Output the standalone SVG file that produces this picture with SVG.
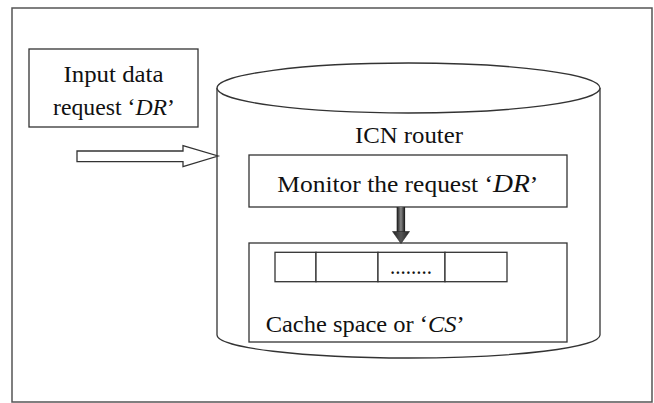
<svg xmlns="http://www.w3.org/2000/svg" width="654" height="403" viewBox="0 0 654 403">
  <style>
    .ln { fill: #fff; stroke: #333; stroke-width: 1.3; }
    .t { font-family: 'Liberation Serif', serif; font-size: 24px; fill: #111; }
    .i { font-style: italic; }
  </style>
  <defs>
    <linearGradient id="shaft" x1="0" y1="0" x2="1" y2="0">
      <stop offset="0" stop-color="#111"/>
      <stop offset="0.5" stop-color="#888"/>
      <stop offset="1" stop-color="#111"/>
    </linearGradient>
    <linearGradient id="head" x1="0" y1="0" x2="1" y2="0">
      <stop offset="0" stop-color="#222"/>
      <stop offset="0.5" stop-color="#555"/>
      <stop offset="1" stop-color="#222"/>
    </linearGradient>
  </defs>
  <rect x="0" y="0" width="654" height="403" fill="#fff"/>
  <g id="frame">
    <rect x="12" y="8" width="640" height="394" fill="#fff" stroke="#555" stroke-width="1.5"/>
  </g>
  <g id="input">
    <rect class="ln" x="29" y="49" width="169" height="78"/>
    <text class="t" x="113.5" y="82" text-anchor="middle" textLength="100" lengthAdjust="spacingAndGlyphs">Input data</text>
    <text class="t" x="53" y="115" textLength="122" lengthAdjust="spacingAndGlyphs">request ‘<tspan class="i">DR</tspan>’</text>
  </g>
  <g id="router">
    <path class="ln" d="M217,88 L217,335 A191.5,23 0 0 0 600,335 L600,88"/>
    <ellipse class="ln" cx="408.5" cy="88" rx="191.5" ry="25"/>
    <text class="t" x="355" y="142.7" textLength="108" lengthAdjust="spacingAndGlyphs">ICN router</text>
  </g>
  <g id="monitor">
    <rect class="ln" x="249" y="155" width="318" height="52"/>
    <text class="t" x="277.3" y="191.7" textLength="261" lengthAdjust="spacingAndGlyphs">Monitor the request ‘<tspan class="i" font-size="26">DR</tspan>’</text>
  </g>
  <g id="cache">
    <rect class="ln" x="249" y="243" width="318" height="99"/>
    <rect class="ln" x="275" y="252.3" width="41" height="29.4"/>
    <rect class="ln" x="316" y="252.3" width="62" height="29.4"/>
    <rect class="ln" x="378" y="252.3" width="67" height="29.4"/>
    <rect class="ln" x="445" y="252.3" width="62" height="29.4"/>
    <text class="t" x="390" y="274" font-size="20" textLength="42" lengthAdjust="spacingAndGlyphs">........</text>
    <text class="t" x="265.7" y="331.7" textLength="199" lengthAdjust="spacingAndGlyphs">Cache space or ‘<tspan class="i">CS</tspan>’</text>
  </g>
  <g id="connectors">
    <polygon points="77,151 183,151 183,145.7 218,156 183,166.7 183,161.7 77,161.7" fill="#fff" stroke="#333" stroke-width="1.3"/>
    <rect x="396.7" y="207" width="8.4" height="25" fill="url(#shaft)"/>
    <polygon points="392.5,231.5 409.5,231.5 401,243.5" fill="url(#head)" stroke="#222" stroke-width="0.6"/>
  </g>
</svg>
